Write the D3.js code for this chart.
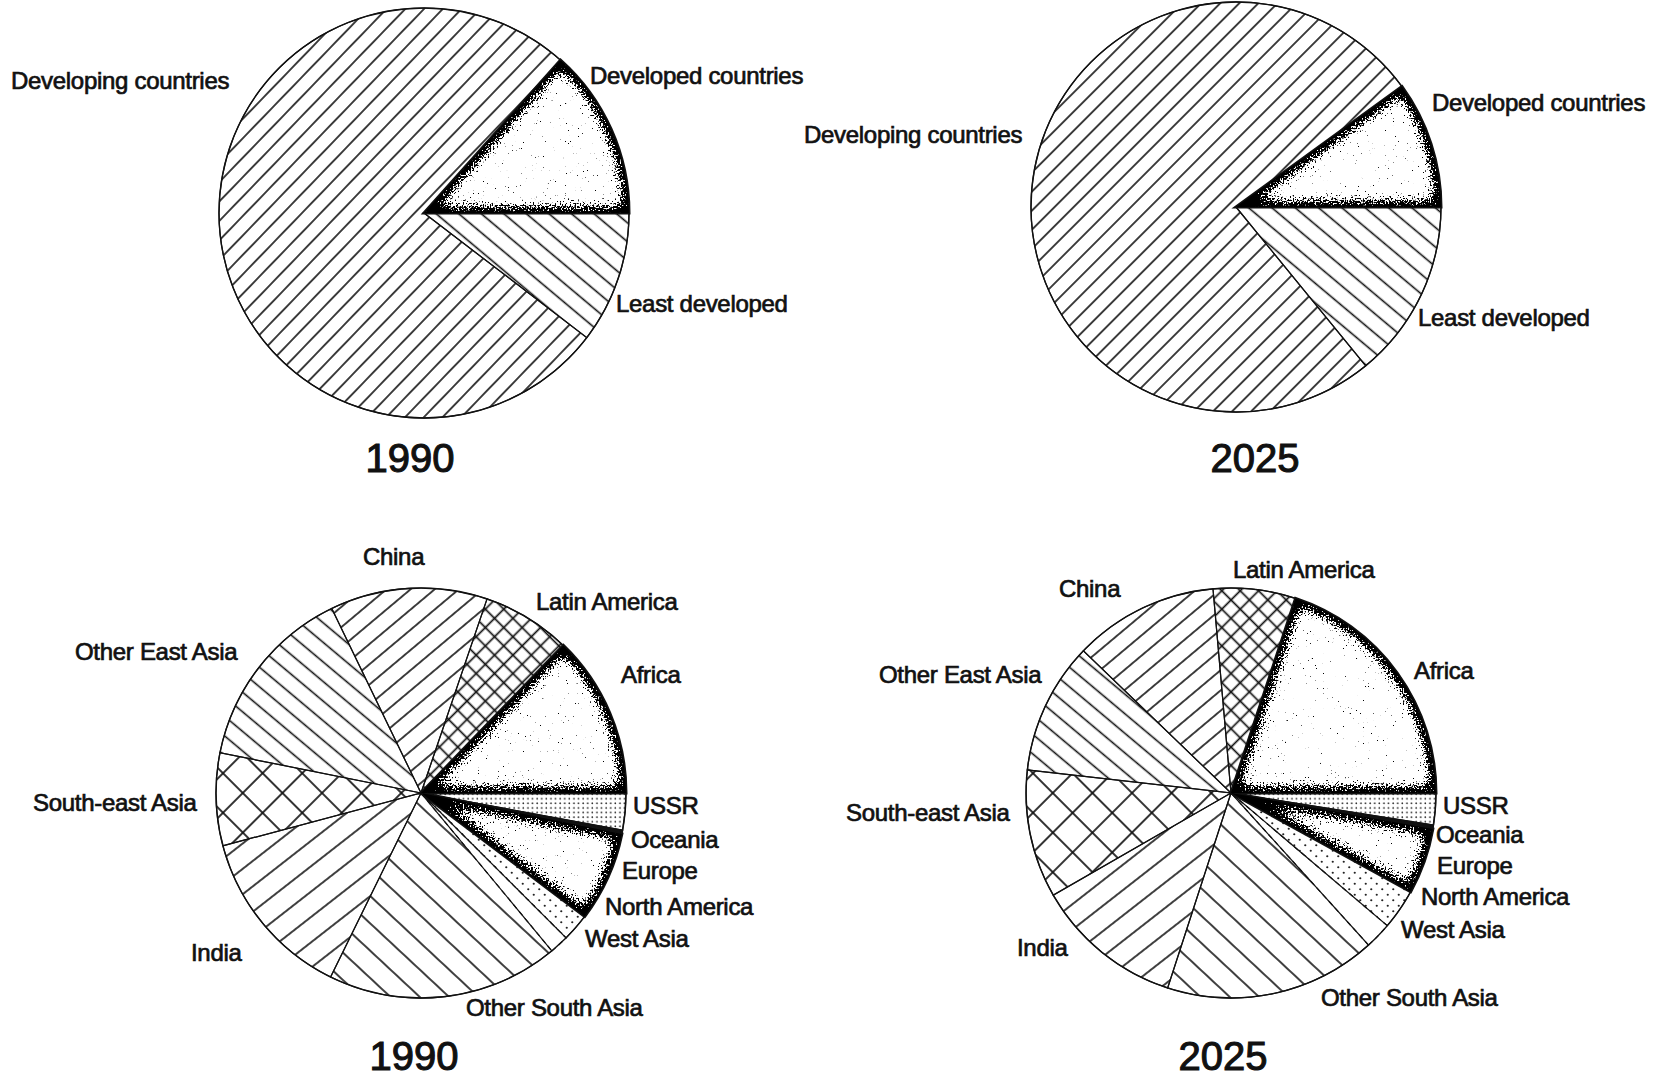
<!DOCTYPE html>
<html><head><meta charset="utf-8">
<script src="https://cdn.jsdelivr.net/npm/d3@7"></script>
<style>
body{margin:0;background:#fff;}
svg text{font-family:"Liberation Sans",Arial,Helvetica,sans-serif;fill:#111;stroke:#111;}
</style></head><body>
<svg id="c" width="1673" height="1078"></svg>
<script>
// ---------- data ----------
const years = ["1990", "2025"];
const topCategories = ["Developed countries", "Developing countries", "Least developed"];
const top1990 = [13.4, 76.2, 10.4];
const top2025 = [10.0, 75.9, 14.1];
const regionCategories = ["Africa", "Latin America", "China", "Other East Asia", "South-east Asia", "India",
  "Other South Asia", "West Asia", "North America", "Europe", "Oceania", "USSR"];
const region1990 = [12.8, 7.0, 12.4, 14.7, 7.3, 13.6, 18.3, 1.5, 2.2, 7.1, 0.3, 2.9];
const region2025 = [19.9, 6.5, 11.4, 10.4, 10.1, 11.7, 16.7, 2.1, 3.2, 5.2, 0.3, 2.5];

// ---------- layout ----------
const R = 205;
const panels = [
  {id: "t90", year: years[0], cats: topCategories, vals: top1990, cx: 424, cy: 213, yx: 410, yy: 472,
   lab: {"Developed countries": [590, 84], "Developing countries": [11, 89], "Least developed": [616, 312]},
   sty: {"Developed countries": {t: "stip"}, "Developing countries": {t: "lines", a: -46, s: 13.5},
         "Least developed": {t: "lines", a: 40, s: 14.5}}},
  {id: "t25", year: years[1], cats: topCategories, vals: top2025, cx: 1236, cy: 207, yx: 1255, yy: 472,
   lab: {"Developed countries": [1432, 111], "Developing countries": [804, 143], "Least developed": [1418, 326]},
   sty: {"Developed countries": {t: "stip"}, "Developing countries": {t: "lines", a: -45, s: 13.5},
         "Least developed": {t: "lines", a: 40, s: 15}}},
  {id: "b90", year: years[0], cats: regionCategories, vals: region1990, cx: 421, cy: 793, yx: 414, yy: 1070,
   lab: {"Africa": [621, 683], "Latin America": [536, 610], "China": [363, 565], "Other East Asia": [75, 660],
         "South-east Asia": [33, 811], "India": [191, 961], "Other South Asia": [466, 1016], "West Asia": [585, 947],
         "North America": [605, 915], "Europe": [622, 879], "Oceania": [631, 848], "USSR": [633, 814]},
   sty: null},
  {id: "b25", year: years[1], cats: regionCategories, vals: region2025, cx: 1231, cy: 793, yx: 1223, yy: 1070,
   lab: {"Africa": [1414, 679], "Latin America": [1233, 578], "China": [1059, 597], "Other East Asia": [879, 683],
         "South-east Asia": [846, 821], "India": [1017, 956], "Other South Asia": [1321, 1006], "West Asia": [1401, 938],
         "North America": [1421, 905], "Europe": [1437, 874], "Oceania": [1436, 843], "USSR": [1443, 814]},
   sty: null}
];
const regionStyle = {
  "Africa": {t: "stip"}, "Latin America": {t: "cross", s: 13}, "China": {t: "lines", a: -40, s: 15.5},
  "Other East Asia": {t: "lines", a: 40, s: 15}, "South-east Asia": {t: "cross", s: 28},
  "India": {t: "lines", a: -38, s: 20}, "Other South Asia": {t: "lines", a: 43, s: 20},
  "West Asia": {t: "none"}, "North America": {t: "dots2"}, "Europe": {t: "stip"},
  "Oceania": {t: "solid"}, "USSR": {t: "dots1"}
};
panels[2].sty = regionStyle; panels[3].sty = regionStyle;

// ---------- drawing ----------
const svg = d3.select("#c");
const defs = svg.append("defs");

let pid = 0;
function linePattern(angle, spacing, width) {
  const id = "lp" + (pid++);
  const p = defs.append("pattern").attr("id", id).attr("patternUnits", "userSpaceOnUse")
    .attr("width", spacing).attr("height", spacing).attr("patternTransform", `rotate(${angle})`);
  p.append("rect").attr("x", 0).attr("y", (spacing - width) / 2).attr("width", spacing).attr("height", width).attr("fill", "#111");
  return id;
}
function dotPattern(spacing, r, stagger) {
  const id = "dp" + (pid++);
  const p = defs.append("pattern").attr("id", id).attr("patternUnits", "userSpaceOnUse")
    .attr("width", spacing).attr("height", spacing);
  p.append("circle").attr("cx", spacing / 4).attr("cy", spacing / 4).attr("r", r).attr("fill", "#222");
  if (stagger) p.append("circle").attr("cx", spacing * 3 / 4).attr("cy", spacing * 3 / 4).attr("r", r).attr("fill", "#222");
  return id;
}
// stipple filter (grainy dark edges fading to sparse speckles)
const f = defs.append("filter").attr("id", "stip").attr("x", "-5%").attr("y", "-5%").attr("width", "110%").attr("height", "110%");
f.append("feGaussianBlur").attr("in", "SourceGraphic").attr("stdDeviation", 6).attr("result", "b");
f.append("feTurbulence").attr("type", "fractalNoise").attr("baseFrequency", 0.6).attr("numOctaves", 2).attr("seed", 7).attr("result", "n");
f.append("feComposite").attr("in", "b").attr("in2", "n").attr("operator", "arithmetic")
  .attr("k1", 0).attr("k2", 1).attr("k3", 1.3).attr("k4", -1.06).attr("result", "c");
const ct = f.append("feComponentTransfer").attr("in", "c");
ct.append("feFuncR").attr("type", "linear").attr("slope", 0).attr("intercept", 0);
ct.append("feFuncG").attr("type", "linear").attr("slope", 0).attr("intercept", 0);
ct.append("feFuncB").attr("type", "linear").attr("slope", 0).attr("intercept", 0);
ct.append("feFuncA").attr("type", "linear").attr("slope", 12).attr("intercept", 0);

const arc = d3.arc().innerRadius(0).outerRadius(R);
const dots1 = dotPattern(4.6, 0.85, false);
const dots2 = dotPattern(11, 1.1, true);

panels.forEach(P => {
  const pie = d3.pie().sort(null).value(d => d.v)
    .startAngle(Math.PI / 2).endAngle(Math.PI / 2 - 2 * Math.PI);
  const data = P.cats.map((c, i) => ({c, v: P.vals[i]}));
  const arcs = pie(data);
  const g = svg.append("g").attr("transform", `translate(${P.cx},${P.cy})`);
  arcs.forEach((a, i) => {
    const st = P.sty[a.data.c];
    const d = arc(a);
    const cid = `clip_${P.id}_${i}`;
    defs.append("clipPath").attr("id", cid).append("path").attr("transform", `translate(${P.cx},${P.cy})`).attr("d", d);
    if (st.t === "lines") {
      g.append("path").attr("d", d).attr("fill", `url(#${linePattern(st.a, st.s, 1.6)})`);
    } else if (st.t === "cross") {
      g.append("path").attr("d", d).attr("fill", `url(#${linePattern(45, st.s, 1.7)})`);
      g.append("path").attr("d", d).attr("fill", `url(#${linePattern(-45, st.s, 1.7)})`);
    } else if (st.t === "dots1") {
      g.append("path").attr("d", d).attr("fill", `url(#${dots1})`);
    } else if (st.t === "dots2") {
      g.append("path").attr("d", d).attr("fill", `url(#${dots2})`);
    } else if (st.t === "solid") {
      g.append("path").attr("d", d).attr("fill", "#111");
    } else if (st.t === "stip") {
      const outer = svg.append("g").attr("clip-path", `url(#${cid})`);
      const inner = outer.append("g").attr("filter", "url(#stip)");
      inner.append("path").attr("transform", `translate(${P.cx},${P.cy})`).attr("d", d)
        .attr("fill", "#000").attr("fill-opacity", 0.07).attr("stroke", "#000").attr("stroke-width", 11)
        .attr("stroke-linejoin", "round");
    }
  });
  // slice borders
  arcs.forEach(a => {
    const st = P.sty[a.data.c];
    g.append("path").attr("d", arc(a)).attr("fill", "none").attr("stroke", "#111")
      .attr("stroke-width", st.t === "stip" ? 3 : 1.2)
      .attr("stroke-dasharray", a.data.c === "West Asia" ? "5,4" : null);
  });
  g.append("circle").attr("r", R).attr("fill", "none").attr("stroke", "#111").attr("stroke-width", 1.4);
  // labels
  P.cats.forEach(c => {
    const p = P.lab[c];
    svg.append("text").attr("x", p[0]).attr("y", p[1]).attr("font-size", 24).attr("stroke-width", 0.7)
      .attr("letter-spacing", -0.3).text(c);
  });
  svg.append("text").attr("x", P.yx).attr("y", P.yy).attr("text-anchor", "middle")
    .attr("font-size", 40).attr("stroke-width", 1.1).text(P.year);
});
</script>
</body></html>
